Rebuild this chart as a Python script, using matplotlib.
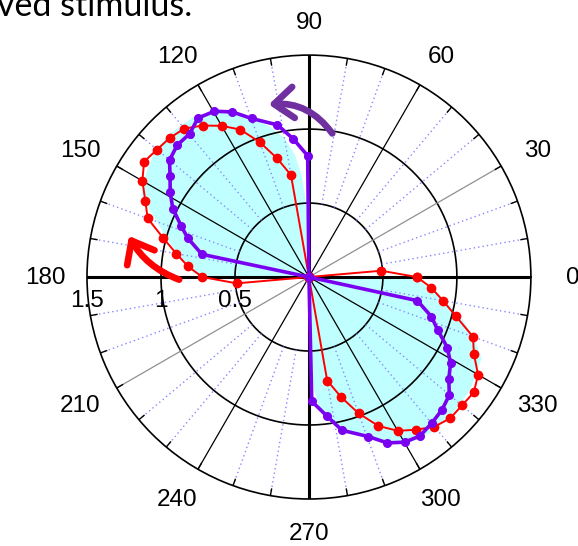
import numpy as np
import matplotlib.pyplot as plt
from matplotlib.patches import FancyArrowPatch

# red response, sampled every 5 degrees
red_deg = list(range(0, 365, 5))
red_r = ([0.73, 0.49] + [0.0] * 18 +
         [0.70, 0.83, 0.97, 1.10, 1.18, 1.25, 1.31, 1.33, 1.34,
          1.36, 1.30, 1.22, 1.16, 1.02, 0.91, 0.82, 0.72, 0.49] +
         [0.0] * 18 +
         [0.71, 0.84, 0.98, 1.11, 1.20, 1.26, 1.32, 1.35, 1.35,
          1.36, 1.32, 1.23, 1.18, 1.03, 0.92, 0.83] +
         [0.73])

# purple response
purple_deg = [0, 90.6, 96.5, 101.7, 109.9, 114.9, 119.7, 124.9, 129.8, 134.9,
              140.0, 144.0, 148.5, 153.3, 158.2, 162.2, 168.0, 180,
              271.3, 277.5, 282.2, 290.4, 295.3, 300.1, 304.9, 310.1, 315.1,
              319.9, 323.9, 328.7, 333.0, 337.7, 342.1, 347.7, 360]
purple_r = [0, 0.82, 0.94, 1.05, 1.14, 1.23, 1.29, 1.31, 1.26, 1.26,
            1.23, 1.16, 1.10, 1.03, 0.93, 0.86, 0.74, 0,
            0.84, 0.95, 1.06, 1.15, 1.24, 1.29, 1.31, 1.29, 1.27,
            1.24, 1.17, 1.12, 1.05, 0.94, 0.87, 0.75, 0]

# cyan shaded envelope
cyan_deg = [90, 91, 92.8, 94.1, 96.5, 99.8, 105, 110, 115, 120, 125, 130, 135,
            140, 145, 150, 154, 159, 165, 172, 178, 179.5, 180,
            270, 271, 272.5, 273.5, 274.7, 281.7, 289.7, 300.2, 308.8, 317.3,
            325, 329, 334.8, 339.2, 344.4, 350.4, 354, 359.3, 359.7, 360]
cyan_r = [0, 0.35, 0.56, 0.69, 0.83, 0.95, 1.06, 1.14, 1.22, 1.29, 1.33, 1.34, 1.35,
          1.35, 1.32, 1.29, 1.26, 1.12, 0.99, 0.87, 0.78, 0.72, 0,
          0, 0.45, 0.75, 0.83, 0.90, 1.03, 1.16, 1.31, 1.34, 1.34,
          1.33, 1.31, 1.29, 1.20, 1.08, 0.93, 0.83, 0.73, 0.65, 0]

angle_labels = [0, 30, 60, 90, 120, 150, 180, 210, 240, 270, 300, 330]
r_labels = [1.5, 1.0, 0.5]

fig = plt.figure(figsize=(5.78, 5.46), dpi=100)
ax = fig.add_axes([0.1505, 0.0861, 0.768, 0.813], projection='polar')
ax.set_ylim(0, 1.5)
ax.set_xticks([])
ax.set_yticks([])
ax.grid(False)
ax.spines['polar'].set_linewidth(1.2)
ax.spines['polar'].set_color('black')

# envelope
ax.fill(np.deg2rad(cyan_deg), cyan_r, color='#C0FFFF', lw=0, zorder=1)

# grid
full = np.linspace(0, 2 * np.pi, 400)
for rr in [0.5, 1.0]:
    ax.plot(full, [rr] * len(full), color='black', lw=1.2, zorder=2)
for d in range(0, 360, 10):
    t = np.deg2rad(d)
    if d % 90 == 0:
        ax.plot([t, t], [0, 1.5], color='black', lw=2.2, zorder=2)
    elif d % 30 == 0:
        c = '#909090' if d in (30, 210) else 'black'
        ax.plot([t, t], [0, 1.5], color=c, lw=0.9, zorder=2)
    else:
        ax.plot([t, t], [0.5, 1.5], color='#8888ff', lw=1.0,
                linestyle=(0, (1, 2.2)), zorder=2)
    ax.plot([t, t], [1.455, 1.5], color='black', lw=1.0, zorder=2)

# data
ax.plot(np.deg2rad(red_deg), red_r, color='#FF0000', lw=1.4,
        marker='o', ms=6, zorder=3)
ax.plot(np.deg2rad(purple_deg), purple_r, color='#7A00F0', lw=2.6,
        marker='o', ms=5.5, zorder=4)

# labels (offsets in points from the pole, slightly elliptical like the original)
lab_font = ['Liberation Sans', 'DejaVu Sans']
for d in angle_labels:
    t = np.deg2rad(d)
    ax.annotate(str(d), xy=(0, 0), xytext=(190 * np.cos(t), 184 * np.sin(t) - 1),
                textcoords='offset points', ha='center', va='center',
                fontsize=17.5, family=lab_font, annotation_clip=False)
for rr in r_labels:
    ax.annotate('%g' % rr, xy=(np.pi, rr), xytext=(0, -17),
                textcoords='offset points', ha='center', va='center',
                fontsize=17.5, family=lab_font, annotation_clip=False)

# arrows
a1 = FancyArrowPatch((np.deg2rad(80), 0.97), (np.deg2rad(104), 1.20),
                     transform=ax.transData, connectionstyle='arc3,rad=0.3',
                     arrowstyle='->,head_length=0.5,head_width=0.4',
                     mutation_scale=28, lw=4.8, color='#7030A0', zorder=6,
                     clip_on=False)
a2 = FancyArrowPatch((np.deg2rad(181.6), 0.86), (np.deg2rad(166.5), 1.26),
                     transform=ax.transData, connectionstyle='arc3,rad=-0.2',
                     arrowstyle='->,head_length=0.5,head_width=0.4',
                     mutation_scale=28, lw=4.8, color='#FF0000', zorder=6,
                     clip_on=False)
ax.add_patch(a1)
ax.add_patch(a2)

fig.text(192 / 578, 1 - 16 / 546, 'ved stimulus.', ha='right', va='baseline',
         fontsize=24.5, family=['Lato', 'DejaVu Sans'])

fig.savefig('out.png', dpi=100)
